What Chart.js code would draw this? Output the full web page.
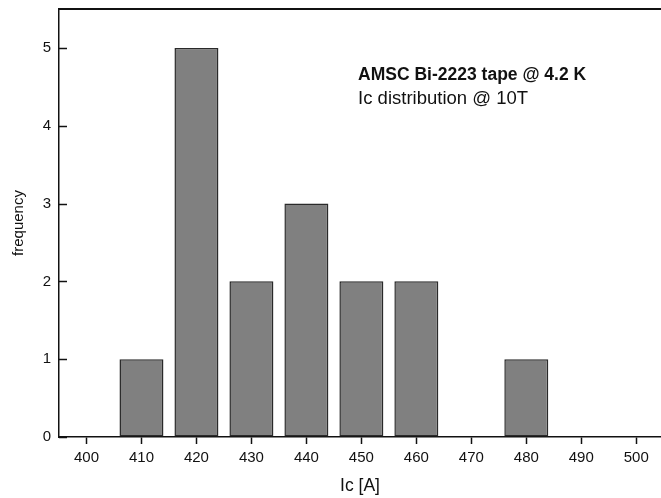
<!DOCTYPE html>
<html>
<head>
<meta charset="utf-8">
<script src="https://cdn.jsdelivr.net/npm/chart.js@4/dist/chart.umd.min.js"></script>
<style>
  html, body { margin: 0; padding: 0; background: #fff; }
  #wrap { width: 661px; height: 498px; }
</style>
</head>
<body>
<div id="wrap"><canvas id="ic-chart"></canvas></div>
<script>
// histogram bins (Ic in A) and counts
let binCenters = [410, 420, 430, 440, 450, 460, 480]
let counts = [1, 5, 2, 3, 2, 2, 1]

let xTicks = [400, 410, 420, 430, 440, 450, 460, 470, 480, 490, 500]
let yTicks = [0, 1, 2, 3, 4, 5]

let noteLines = ['AMSC Bi-2223 tape @ 4.2 K', 'Ic distribution @ 10T']

let fontFamily = '"Liberation Sans", Arial, sans-serif'

// inward ticks on the y axis, top frame line and the text note
let frame = {
    id: 'frame',
    afterDraw(chart) {
        let ctx = chart.ctx
        let area = chart.chartArea
        let x = chart.scales.x
        let y = chart.scales.y
        ctx.save()
        ctx.strokeStyle = '#111'
        ctx.lineWidth = 1.5
        yTicks.forEach(function(v) {
            let py = Math.round(y.getPixelForValue(v)) + 0.5
            ctx.beginPath()
            ctx.moveTo(area.left, py)
            ctx.lineTo(area.left + 8, py)
            ctx.stroke()
        })
        // top border
        ctx.lineWidth = 2
        ctx.beginPath()
        ctx.moveTo(area.left, area.top)
        ctx.lineTo(area.right, area.top)
        ctx.stroke()

        // note text
        ctx.fillStyle = '#111'
        ctx.textBaseline = 'alphabetic'
        ctx.textAlign = 'left'
        let nx = x.getPixelForValue(449.4)
        ctx.font = 'bold 17.5px ' + fontFamily
        ctx.fillText(noteLines[0], nx, y.getPixelForValue(4.59))
        ctx.font = '18.5px ' + fontFamily
        ctx.fillText(noteLines[1], nx, y.getPixelForValue(4.28))
        ctx.restore()
    }
}

let chart = new Chart(document.getElementById('ic-chart'), {
    type: 'bar',
    data: {
        datasets: [{
            label: 'frequency',
            data: binCenters.map((c, i) => ({x: c, y: counts[i]})),
            backgroundColor: '#808080',
            borderColor: '#2a2a2a',
            borderWidth: 1.5,
            borderSkipped: false,
            categoryPercentage: 1.0,
            barPercentage: 0.8
        }]
    },
    options: {
        responsive: true,
        maintainAspectRatio: false,
        animation: false,
        layout: { padding: { top: 9, right: 0, left: 0, bottom: 0 } },
        plugins: {
            legend: { display: false },
            tooltip: { enabled: false }
        },
        scales: {
            x: {
                type: 'linear',
                min: 395,
                max: 504.5,
                offset: false,
                afterBuildTicks: (s) => { s.ticks = xTicks.map(v => ({value: v})) },
                afterFit: (s) => { s.height = 61; s.paddingRight = 0 },
                grid: {
                    offset: false,
                    drawOnChartArea: false,
                    drawTicks: true,
                    tickLength: 7,
                    tickColor: '#111',
                    tickWidth: 1.5
                },
                border: { display: true, color: '#111', width: 1.5 },
                ticks: {
                    color: '#111',
                    font: { family: fontFamily, size: 15 },
                    padding: 5
                },
                title: {
                    display: true,
                    text: 'Ic [A]',
                    color: '#111',
                    font: { family: fontFamily, size: 17.5 },
                    padding: { top: 4, bottom: 1 }
                }
            },
            y: {
                min: 0,
                max: 5.5,
                afterBuildTicks: (s) => { s.ticks = yTicks.map(v => ({value: v})) },
                afterFit: (s) => { s.width = 59; s.paddingTop = 0; s.paddingBottom = 0 },
                grid: {
                    drawOnChartArea: false,
                    drawTicks: false
                },
                border: { display: true, color: '#111', width: 1.5 },
                ticks: {
                    color: '#111',
                    font: { family: fontFamily, size: 15 },
                    padding: 8
                },
                title: {
                    display: true,
                    text: 'frequency',
                    color: '#111',
                    font: { family: fontFamily, size: 15 },
                    padding: { top: 10, bottom: 0 }
                }
            }
        }
    },
    plugins: [frame]
})
</script>
</body>
</html>
